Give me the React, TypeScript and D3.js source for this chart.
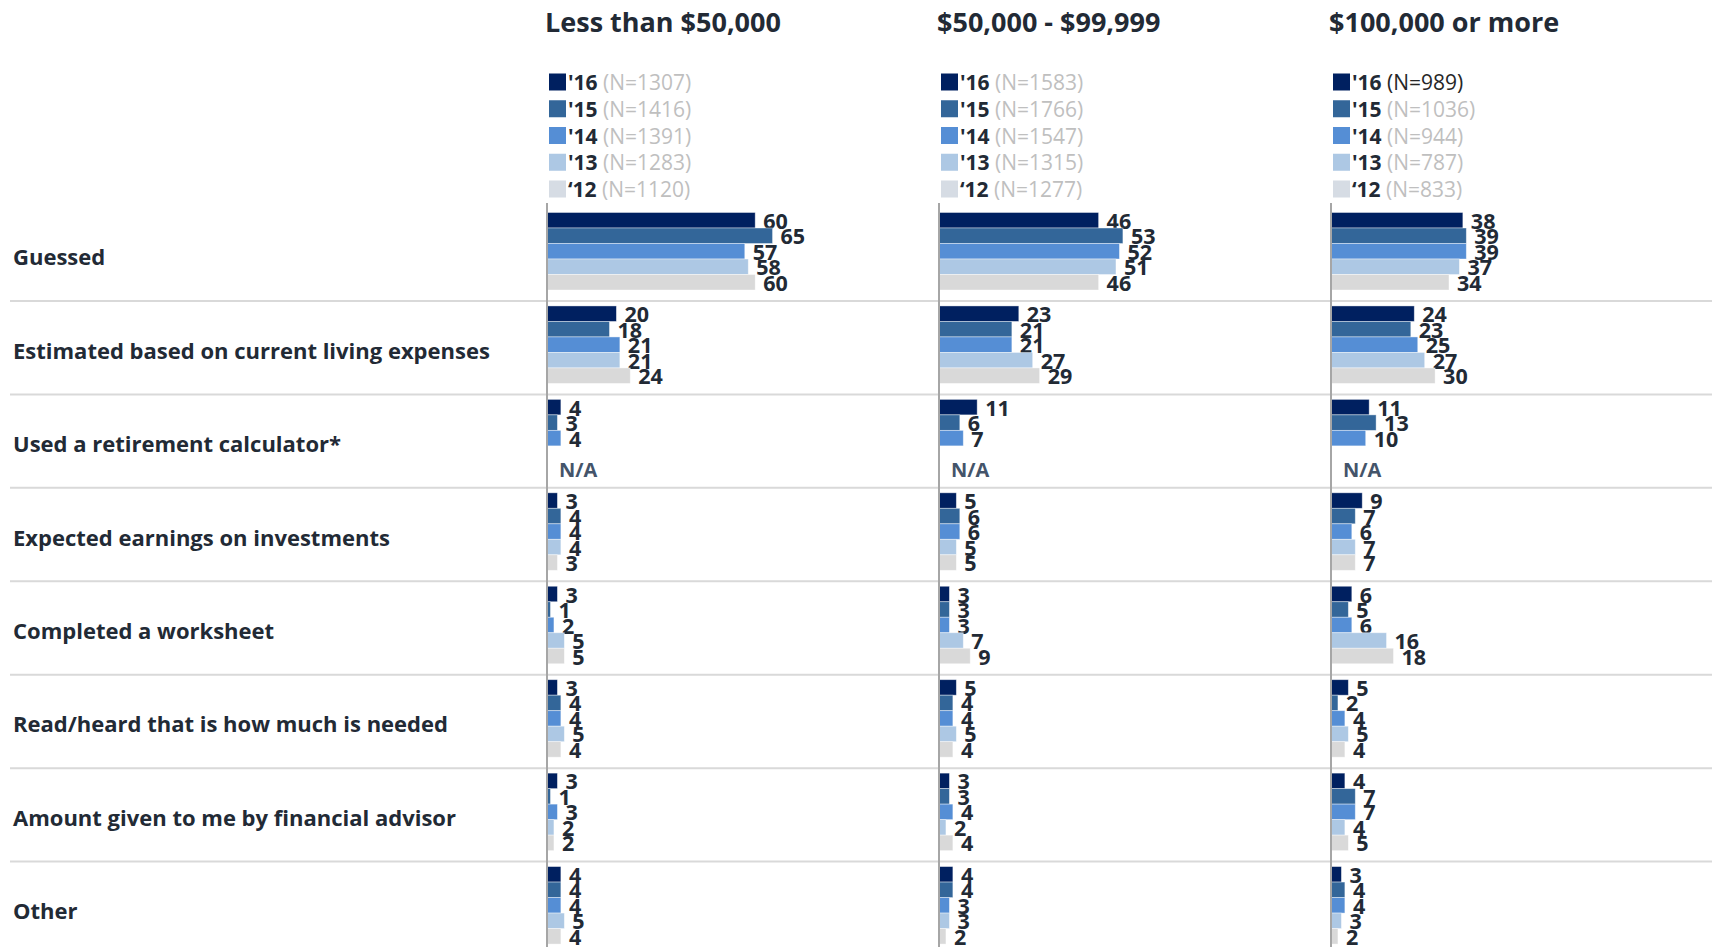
import React from "react";
import * as d3 from "d3";

// ---------- data ----------
const panels = ["Less than $50,000", "$50,000 - $99,999", "$100,000 or more"];
const years = ["'16", "'15", "'14", "'13", "\u201812"];
const categories = [
  "Guessed",
  "Estimated based on current living expenses",
  "Used a retirement calculator*",
  "Expected earnings on investments",
  "Completed a worksheet",
  "Read/heard that is how much is needed",
  "Amount given to me by financial advisor",
  "Other",
];
const sampleLess50 = [1307, 1416, 1391, 1283, 1120];
const sample50to99 = [1583, 1766, 1547, 1315, 1277];
const sample100plus = [989, 1036, 944, 787, 833];

// values per category, ordered by year ('16, '15, '14, '13, '12); null = N/A
const valuesLess50 = [
  [60, 65, 57, 58, 60],
  [20, 18, 21, 21, 24],
  [4, 3, 4, null, null],
  [3, 4, 4, 4, 3],
  [3, 1, 2, 5, 5],
  [3, 4, 4, 5, 4],
  [3, 1, 3, 2, 2],
  [4, 4, 4, 5, 4],
];
const values50to99 = [
  [46, 53, 52, 51, 46],
  [23, 21, 21, 27, 29],
  [11, 6, 7, null, null],
  [5, 6, 6, 5, 5],
  [3, 3, 3, 7, 9],
  [5, 4, 4, 5, 4],
  [3, 3, 4, 2, 4],
  [4, 4, 3, 3, 2],
];
const values100plus = [
  [38, 39, 39, 37, 34],
  [24, 23, 25, 27, 30],
  [11, 13, 10, null, null],
  [9, 7, 6, 7, 7],
  [6, 5, 6, 16, 18],
  [5, 2, 4, 5, 4],
  [4, 7, 7, 4, 5],
  [3, 4, 4, 3, 2],
];

const panelValues = [valuesLess50, values50to99, values100plus];
const panelSamples = [sampleLess50, sample50to99, sample100plus];

// ---------- styles ----------
const barColors = ["#002060", "#336699", "#558ED5", "#ADC8E4", "#D9D9D9"];
const swatchColors = ["#002060", "#336699", "#558ED5", "#ADC8E4", "#D6DCE4"];
const FONT = "'Open Sans', 'Noto Sans', sans-serif";
const DARK = "#222A35";

const W = 1712;
const H = 947;

export default function App() {
  const panelX = d3.scalePoint<string>().domain(panels).range([547, 1331]);
  const rowY = d3.scaleBand<string>().domain(categories).range([207.5, 955]);
  const yearY = d3.scaleBand<string>().domain(years).range([5, 82.5]);
  const xLen = d3.scaleLinear().domain([0, 100]).range([0, 347]);
  const legendY = d3.scalePoint<string>().domain(years).range([82, 189]);

  return (
    <svg
      width={W}
      height={H}
      style={{ position: "absolute", left: 0, top: 0, background: "#fff" }}
      fontFamily={FONT}
    >
      <rect x={0} y={0} width={W} height={H} fill="#fff" />

      {/* row separators */}
      {categories.slice(1).map((c) => (
        <line
          key={"sep" + c}
          x1={10}
          x2={W}
          y1={rowY(c)!}
          y2={rowY(c)!}
          stroke="#D9D9D9"
          strokeWidth={2}
        />
      ))}

      {/* category labels */}
      {categories.map((c) => (
        <text
          key={"cat" + c}
          x={13}
          y={rowY(c)! + rowY.bandwidth() / 2 + 2}
          dominantBaseline="central"
          fontSize={22}
          fontWeight={700}
          fill={DARK}
        >
          {c}
        </text>
      ))}

      {panels.map((p, pi) => {
        const x0 = panelX(p)!;
        const vals = panelValues[pi];
        const ns = panelSamples[pi];
        return (
          <g key={p}>
            {/* title */}
            <text x={x0 - 2} y={32} fontSize={27} fontWeight={700} fill={DARK}>
              {p}
            </text>
            {/* legend */}
            {years.map((yr, yi) => {
              const cy = legendY(yr)!;
              const dark = pi === 2 && yi === 0;
              return (
                <g key={"lg" + yr}>
                  <rect x={x0 + 2} y={cy - 8.5} width={17} height={17} fill={swatchColors[yi]} />
                  <text x={x0 + 21} y={cy} dominantBaseline="central" fontSize={21} fill={DARK}>
                    <tspan fontWeight={700}>{yr}</tspan>
                    <tspan fill={dark ? "#262626" : "#BFBFBF"}>{` (N=${ns[yi]})`}</tspan>
                  </text>
                </g>
              );
            })}

            {/* bars */}
            {categories.map((c, ci) => {
              const top = rowY(c)!;
              const rowVals = vals[ci];
              const hasNA = rowVals.some((v) => v === null);
              const naYears = years.filter((_, yi) => rowVals[yi] === null);
              return (
                <g key={"row" + c}>
                  {years.map((yr, yi) => {
                    const v = rowVals[yi];
                    if (v === null) return null;
                    const by = top + yearY(yr)!;
                    const bw = xLen(v);
                    return (
                      <g key={yr}>
                        <rect
                          x={x0}
                          y={by}
                          width={bw}
                          height={yearY.bandwidth()}
                          fill={barColors[yi]}
                          stroke="#ffffff"
                          strokeOpacity={0.5}
                          strokeWidth={0.8}
                        />
                        <text
                          x={x0 + bw + 8}
                          y={by + yearY.bandwidth() / 2}
                          dominantBaseline="central"
                          fontSize={21.5}
                          fontWeight={700}
                          fill={DARK}
                        >
                          {v}
                        </text>
                      </g>
                    );
                  })}
                  {hasNA && (
                    <text
                      x={x0 + 12}
                      y={
                        top +
                        (yearY(naYears[0])! + yearY(naYears[naYears.length - 1])! + yearY.bandwidth()) / 2 +
                        8
                      }
                      dominantBaseline="central"
                      fontSize={20}
                      fontWeight={700}
                      fill="#44546A"
                    >
                      N/A
                    </text>
                  )}
                </g>
              );
            })}

            {/* vertical axis */}
            <line x1={x0} x2={x0} y1={203} y2={H} stroke="#A6A6A6" strokeWidth={2} />
          </g>
        );
      })}
    </svg>
  );
}
